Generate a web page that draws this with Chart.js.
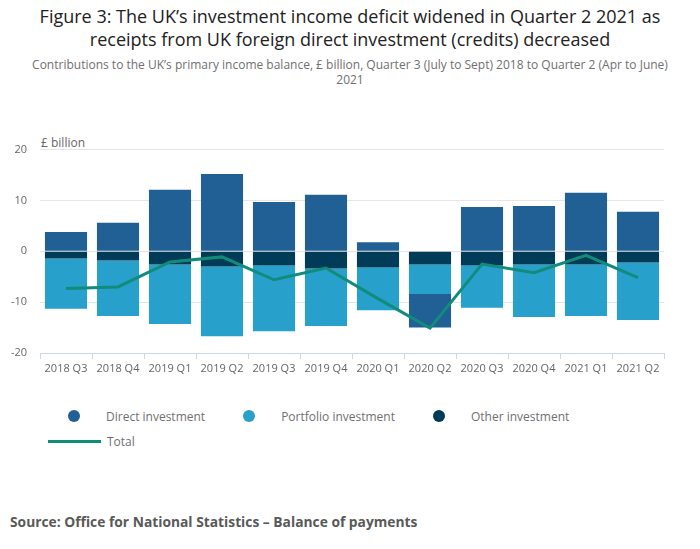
<!DOCTYPE html>
<html lang="en">
<head>
<meta charset="utf-8">
<title>Figure 3: UK investment income</title>
<script src="https://cdn.jsdelivr.net/npm/chart.js@4.4.1/dist/chart.umd.min.js"></script>
<style>
    html, body {
        margin: 0;
        padding: 0;
        background: #ffffff;
        font-family: 'Open Sans', sans-serif;
    }
    .page {
        position: relative;
        width: 700px;
        height: 549px;
        overflow: hidden;
    }
    .chart-title {
        position: absolute;
        top: 5px;
        left: 0;
        width: 700px;
        text-align: center;
        font-size: 18px;
        line-height: 23px;
        color: #222222;
    }
    .chart-subtitle {
        position: absolute;
        top: 57px;
        left: 25px;
        width: 650px;
        text-align: center;
        font-size: 12px;
        line-height: 15px;
        color: #707070;
    }
    .unit-label {
        position: absolute;
        top: 134px;
        left: 41px;
        font-size: 12px;
        line-height: 18px;
        color: #666666;
    }
    .chart-wrap {
        position: absolute;
        top: 130px;
        left: 0;
        width: 700px;
        height: 255px;
    }
    .legend {
        position: absolute;
        top: 406px;
        left: 48px;
        width: 620px;
        font-size: 12px;
        color: #707070;
    }
    .legend-row {
        display: flex;
        align-items: center;
        height: 20px;
        margin-bottom: 5px;
    }
    .legend-row.bars {
        padding-left: 20px;
    }
    .legend-item {
        display: flex;
        align-items: center;
        margin-right: 38px;
    }
    .legend-dot {
        width: 12px;
        height: 12px;
        border-radius: 50%;
        margin-right: 26px;
    }
    .legend-line {
        width: 53px;
        height: 3px;
        margin-right: 6px;
    }
    .source {
        position: absolute;
        top: 512px;
        left: 10px;
        font-size: 13.8px;
        line-height: 20px;
        font-weight: 700;
        color: #595959;
    }
</style>
</head>
<body>
<div class="page">
    <div class="chart-title">Figure 3: The UK’s investment income deficit widened in Quarter 2 2021 as<br>receipts from UK foreign direct investment (credits) decreased</div>
    <div class="chart-subtitle">Contributions to the UK’s primary income balance, £ billion, Quarter 3 (July to Sept) 2018 to Quarter 2 (Apr to June) 2021</div>
    <div class="unit-label">£ billion</div>
    <div class="chart-wrap"><canvas id="incomeChart"></canvas></div>
    <div class="legend" id="legend"></div>
    <div class="source">Source: Office for National Statistics – Balance of payments</div>
</div>

<script>
// Chart data (£ billion)
const quarters = ['2018 Q3', '2018 Q4', '2019 Q1', '2019 Q2', '2019 Q3', '2019 Q4',
                  '2020 Q1', '2020 Q2', '2020 Q3', '2020 Q4', '2021 Q1', '2021 Q2'];
const directInvestment = [3.8, 5.6, 12.1, 15.2, 9.7, 11.1, 1.8, -6.6, 8.7, 8.9, 11.5, 7.8];
const portfolioInvestment = [-9.9, -10.9, -11.7, -13.7, -12.9, -11.3, -8.4, -5.8, -8.3, -10.3, -10.1, -11.3];
const otherInvestment = [-1.4, -1.8, -2.6, -3.0, -2.8, -3.4, -3.2, -2.6, -2.8, -2.6, -2.6, -2.2];
const totalBalance = [-7.3, -7.0, -2.1, -1.1, -5.6, -3.3, -9.3, -15.1, -2.5, -4.2, -0.8, -5.2];
const yTicks = [-20, -10, 0, 10, 20];

const COLORS = {
    direct: '#206095',
    portfolio: '#27a0cc',
    other: '#003c57',
    total: '#118c7b',
};

document.addEventListener('DOMContentLoaded', () => {
    if (typeof Chart === 'undefined') {
        console.error('Chart.js failed to load.');
        return;
    }

    Chart.defaults.font.family = "'Open Sans', sans-serif";
    Chart.defaults.color = '#707070';

    const ctx = document.getElementById('incomeChart').getContext('2d');

    // 'order' drives the stacking: other sits next to zero, then portfolio, then direct.
    const chart = new Chart(ctx, {
        type: 'bar',
        data: {
            labels: quarters,
            datasets: [
                {
                    label: 'Direct investment',
                    data: directInvestment,
                    backgroundColor: COLORS.direct,
                    stack: 'components',
                    order: 3,
                },
                {
                    label: 'Portfolio investment',
                    data: portfolioInvestment,
                    backgroundColor: COLORS.portfolio,
                    stack: 'components',
                    order: 2,
                },
                {
                    label: 'Other investment',
                    data: otherInvestment,
                    backgroundColor: COLORS.other,
                    stack: 'components',
                    order: 1,
                },
                {
                    type: 'line',
                    label: 'Total',
                    data: totalBalance,
                    borderColor: COLORS.total,
                    backgroundColor: COLORS.total,
                    borderWidth: 3,
                    pointRadius: 0,
                    pointHoverRadius: 4,
                    tension: 0,
                    stack: 'total',
                    order: 0,
                },
            ],
        },
        options: {
            responsive: true,
            maintainAspectRatio: false,
            animation: false,
            datasets: {
                bar: {
                    barPercentage: 0.81,
                    categoryPercentage: 1,
                },
            },
            layout: {
                padding: { top: 19, right: 36, bottom: 0, left: 0 },
            },
            plugins: {
                legend: { display: false }, // custom HTML legend below the chart
                tooltip: {
                    mode: 'index',
                    intersect: false,
                },
            },
            scales: {
                x: {
                    stacked: true,
                    grid: {
                        offset: true,
                        drawOnChartArea: false,
                        drawTicks: true,
                        tickLength: 6,
                        color: '#ccd6eb',
                    },
                    border: { color: '#ccd6eb' },
                    ticks: {
                        padding: 3,
                        maxRotation: 0,
                        autoSkip: false,
                        font: { size: 11 },
                        color: '#666666',
                    },
                    afterFit: (scale) => { scale.height = 32; },
                },
                y: {
                    stacked: true,
                    min: yTicks[0],
                    max: yTicks[yTicks.length - 1],
                    afterBuildTicks: (scale) => {
                        scale.ticks = yTicks.map(v => ({ value: v }));
                    },
                    grid: {
                        color: '#e6e6e6',
                        drawTicks: false,
                    },
                    border: { display: false },
                    ticks: {
                        padding: 13,
                        font: { size: 11 },
                        color: '#666666',
                    },
                    afterFit: (scale) => { scale.width = 40; },
                },
            },
        },
    });

    // Build the HTML legend from the chart's own datasets
    const legendEl = document.getElementById('legend');
    const barRow = document.createElement('div');
    barRow.className = 'legend-row bars';
    const lineRow = document.createElement('div');
    lineRow.className = 'legend-row';

    chart.data.datasets.forEach(ds => {
        const item = document.createElement('div');
        item.className = 'legend-item';
        const swatch = document.createElement('span');
        const text = document.createElement('span');
        text.textContent = ds.label;
        if (ds.type === 'line') {
            swatch.className = 'legend-line';
            swatch.style.background = ds.borderColor;
            item.append(swatch, text);
            lineRow.appendChild(item);
        } else {
            swatch.className = 'legend-dot';
            swatch.style.background = ds.backgroundColor;
            item.append(swatch, text);
            barRow.appendChild(item);
        }
    });

    legendEl.append(barRow, lineRow);
});
</script>
</body>
</html>
